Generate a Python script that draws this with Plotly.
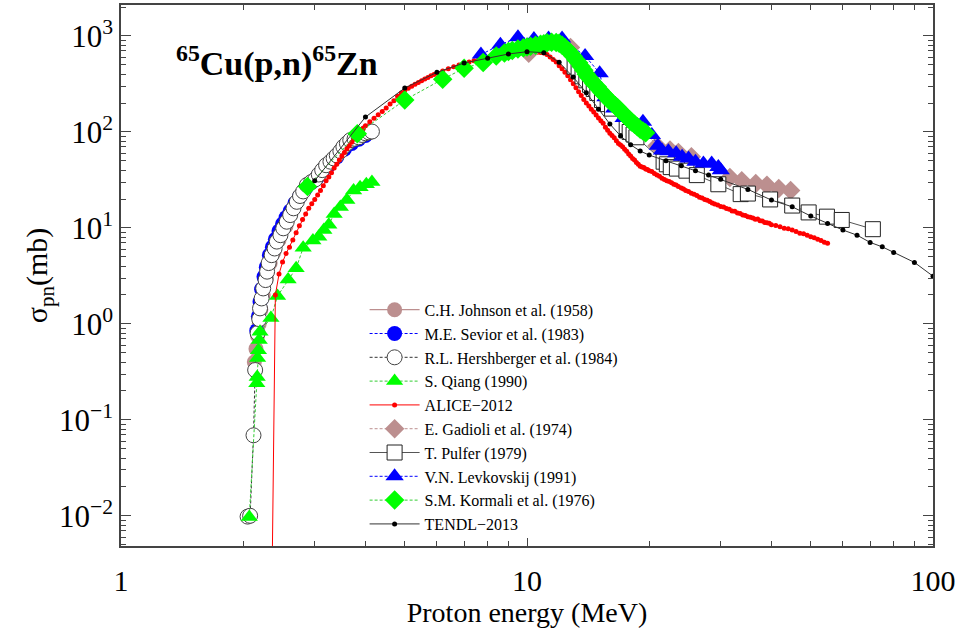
import plotly.graph_objects as go

# ---------------- data ----------------
johnson_e = [2.13, 2.15, 2.17, 2.19, 2.21, 2.24, 2.28, 2.33, 2.38, 2.45, 2.55]
johnson_s = [0.40, 0.55, 0.75, 1.0, 1.4, 2.0, 3.0, 4.3, 5.6, 7.5, 10.5]

sevior_e = [2.16, 2.18, 2.20, 2.22, 2.25, 2.28, 2.32, 2.36, 2.40, 2.45, 2.50, 2.55, 2.61,
            2.68, 2.75, 2.85, 2.95, 3.05, 3.15, 3.25, 3.40, 3.55, 3.70, 3.85, 4.00]
sevior_s = [0.85, 1.2, 1.7, 2.3, 3.1, 3.9, 5.2, 6.3, 7.6, 9.3, 11, 12.8, 15,
            18, 21, 26, 30, 34, 40, 45, 55, 66, 76, 84, 92]

hersh_e = [2.05, 2.08, 2.12, 2.14, 2.17, 2.19, 2.20, 2.22, 2.24, 2.27, 2.29, 2.31, 2.35,
           2.39, 2.42, 2.47, 2.51, 2.56, 2.61, 2.66, 2.71, 2.76, 2.81, 2.87, 2.94, 3.01,
           3.07, 3.13, 3.20, 3.28, 3.34, 3.40, 3.47, 3.53, 3.60, 3.67, 3.76, 3.85, 3.92,
           4.00, 4.08, 4.15]
hersh_s = [0.0098, 0.0100, 0.069, 0.33, 0.80, 1.12, 1.45, 1.84, 2.34, 2.86, 3.5, 4.3, 5.2,
           6.1, 7.2, 8.4, 9.9, 11.6, 13.6, 16.0, 18.7, 21.5, 24, 28, 30, 32,
           36, 40, 45, 49, 53, 57, 63, 70, 76, 82, 85, 88, 93,
           97, 99, 101]

qiang_e = [2.07, 2.16, 2.165, 2.17, 2.18, 2.19, 2.20, 2.34, 2.43, 2.58, 2.70, 2.81, 2.97,
           3.07, 3.16, 3.25, 3.35, 3.47, 3.60, 3.74, 3.88, 4.02, 4.15]
qiang_s = [0.0097, 0.24, 0.28, 0.44, 0.53, 0.68, 0.83, 1.15, 1.95, 2.9, 3.8, 6.2, 7.4,
           8.1, 9.5, 10.8, 14, 16.5, 19.5, 24.5, 26.5, 28.5, 30]

alice_e = [2.34, 2.40, 2.45, 2.50, 2.55, 2.60, 2.65, 2.70, 2.75, 2.80, 2.85, 2.90, 2.95,
           3.00, 3.05, 3.10, 3.15, 3.20, 3.25, 3.30, 3.35, 3.40, 3.45, 3.50, 3.55, 3.60,
           3.65, 3.70, 3.75, 3.80, 3.85, 3.90, 3.95, 4.00, 4.10, 4.20, 4.30, 4.40, 4.50,
           4.60, 4.70, 4.80, 4.90, 5.0, 5.1, 5.2, 5.3, 5.4, 5.5, 5.6, 5.7, 5.8, 5.9, 6.0,
           6.2, 6.4, 6.6, 6.8, 7.0, 7.2, 7.4, 7.6, 7.8, 8.0, 8.2, 8.4, 8.6, 8.8, 9.0, 9.2,
           9.4, 9.6, 9.8, 10.0, 10.2, 10.4, 10.6, 10.8, 11.0, 11.2, 11.4, 11.6, 11.8, 12.0,
           12.2, 12.4, 12.6, 12.8, 13.0, 13.2, 13.4, 13.6, 13.8, 14.0, 14.2, 14.4, 14.6,
           14.8, 15.0, 15.2, 15.4, 15.6, 15.8, 16.0, 16.2, 16.4, 16.6, 16.8, 17.0, 17.2,
           17.4, 17.6, 17.8, 18.0, 18.2, 18.4, 18.6, 18.8, 19.0, 19.2, 19.4, 19.6, 19.8,
           20.0, 20.3, 20.6, 20.9, 21.2, 21.5, 21.8, 22.1, 22.4, 22.7, 23.0, 23.3, 23.6,
           24.0, 24.3, 24.6, 25.0, 25.4, 25.8, 26.2, 26.6, 27.0, 27.4, 27.8, 28.2, 28.6,
           29.0, 29.5, 30.0, 30.5, 31.0, 31.5, 32.0, 32.5, 33.0, 33.5, 34.0, 34.5, 35.0,
           35.5, 36.0, 36.5, 37.0, 37.5, 38.0, 38.5, 39.0, 39.5, 40.0, 41.0, 42.0, 43.0,
           44.0, 45.0, 46.0, 47.0, 48.0, 49.0, 50.0, 51.0, 52.0, 53.0, 54.0, 55.0]
alice_s = [0.0002, 2.0, 3.3, 4.4, 5.4, 6.3, 7.5, 8.9, 10.5, 12.2, 14.0, 16.0, 17.9,
           19.8, 22.0, 24.5, 27.5, 31, 34, 37.6, 42, 46, 51, 56, 61, 67,
           72, 78, 84, 91, 97, 103, 109, 116, 128, 139, 151, 163, 178,
           195, 212, 235, 255, 272, 285, 300, 315, 328, 342, 356, 370, 385, 398, 410,
           432, 455, 478, 500, 520, 535, 552, 568, 583, 596, 608, 620, 632, 642, 650, 656,
           661, 666, 670, 673, 676, 678, 677, 674, 666, 640, 605, 570, 535, 490,
           455, 420, 385, 350, 318, 288, 262, 240, 218, 200, 186, 172, 161,
           150, 140, 131, 123, 112, 104, 97, 92, 87, 81, 76, 73, 70,
           66, 63, 59, 56, 53, 51, 48, 46, 44, 43, 42.5, 41, 40.5,
           39.5, 38.8, 37, 35.5, 34.5, 33, 32, 31, 30.5, 29.5, 28.5, 28, 27,
           26, 25.4, 24.5, 24, 23, 22.4, 21.8, 20.9, 20.5, 19.8, 19.4, 18.8, 18.2,
           17.8, 17.3, 16.7, 16.5, 15.9, 15.6, 15.0, 14.9, 14.3, 14.1, 13.6, 13.5, 13.1,
           12.9, 12.7, 12.3, 12.4, 11.9, 11.8, 11.4, 11.3, 11.2, 10.8, 10.6, 10.3, 9.9,
           9.8, 9.5, 9.2, 8.8, 8.7, 8.4, 8.1, 7.9, 7.6, 7.4, 7.1, 6.9]

gadioli_e = [10.1, 12.8, 20.9, 22.5, 23.6, 25.4, 31.6, 33.8, 36.6, 39.0, 41.7, 44.6]
gadioli_s = [660, 760, 72, 65, 61, 55, 33.5, 31, 29, 27.9, 25.8, 24.5]

pulfer_e = [13.1, 13.4, 13.7, 14.0, 14.3, 14.6, 14.9, 15.3, 15.8, 16.2, 17.6, 17.9, 18.3,
            18.6, 21.7, 22.1, 22.6, 23.4, 24.7, 26.2, 29.6, 33.6, 35.0, 39.7, 45.0, 49.4,
            54.8, 59.6, 71.1]
pulfer_s = [480, 430, 380, 345, 310, 280, 255, 215, 195, 175, 115, 100, 94,
            88, 49, 46, 43, 41.5, 39.5, 35.5, 28.5, 22.5, 22.8, 19.8, 17.1, 14.5,
            13.1, 12.1, 9.7]

levk_e = [7.7, 8.6, 9.5, 10.4, 11.3, 12.2, 13.9, 15.1, 15.6, 16.4, 17.3, 19.3, 20.3, 21.0,
          21.5, 22.3, 23.3, 24.1, 25.0, 26.0, 27.2, 28.5, 29.6, 30.0]
levk_s = [640, 810, 970, 930, 940, 940, 620, 410, 230, 176, 140, 128, 93, 72,
          64, 63, 60, 55, 53, 49, 47, 47, 43, 40]

korm_e = [2.88, 3.82, 5.0, 6.2, 7.0, 7.8, 8.4, 8.8, 9.0, 9.2, 9.5, 9.8, 10.0, 10.2, 10.5,
          10.8, 11.0, 11.2, 11.5, 11.8, 12.0, 12.2, 12.4, 12.6, 12.8, 13.0, 13.2, 13.4,
          13.6, 13.8, 14.0, 14.2, 14.4, 14.6, 14.9, 15.1, 15.3, 15.5, 15.8, 16.0, 16.2,
          16.5, 16.7, 16.9, 17.1, 17.4, 17.6, 17.9, 18.1, 18.4, 18.7, 19.0, 19.3, 19.6]
korm_s = [27, 96, 215, 355, 460, 530, 620, 665, 690, 705, 730, 755, 770, 780, 800,
          820, 830, 850, 860, 855, 840, 800, 760, 710, 660, 615, 565, 525,
          480, 440, 400, 370, 345, 320, 296, 275, 258, 243, 225, 210, 200,
          188, 180, 170, 160, 150, 143, 134, 127, 120, 113, 107, 102, 98]

tendl_e = [3.0, 4.0, 5.0, 6.0, 7.0, 8.0, 9.0, 10.0, 11.0, 12.0, 13.0, 14.0, 15.0, 16.0,
           17.0, 18.0, 19.0, 20.0, 22.0, 24.0, 26.0, 28.0, 30.0, 35.0, 40.0, 45.0, 50.0,
           55.0, 60.0, 65.0, 70.0, 75.0, 80.0, 90.0, 100.0]
tendl_s = [31, 143, 287, 418, 523, 585, 649, 686, 670, 532, 373, 256, 172, 121,
           91, 73.6, 63.2, 57.4, 50, 44.5, 39.4, 35.5, 32.1, 25.2, 19.5, 16.6, 13.3,
           11.1, 9.5, 8.4, 7.06, 6.35, 5.55, 4.37, 3.14]

ytick_vals = [0.01, 0.1, 1, 10, 100, 1000]
ytick_text = ["10<sup>−2</sup>", "10<sup>−1</sup>", "10<sup>0</sup>",
              "10<sup>1</sup>", "10<sup>2</sup>", "10<sup>3</sup>"]
xtick_vals = [1, 10, 100]
xtick_text = ["1", "10", "100"]

# ---------------- figure ----------------
SERIF = "Liberation Serif"
BROWN = "#bc8f8f"
GREEN = "#00ff00"
BLUE = "#0000ff"

fig = go.Figure()


def add(name, x, y, symbol, size, fill, edge, lcolor, dash, lw=1.0, mlw=1.0):
    fig.add_trace(go.Scatter(
        x=x, y=y, name=name, mode="lines+markers",
        line=dict(color=lcolor, width=lw, dash=dash),
        marker=dict(symbol=symbol, size=size, color=fill,
                    line=dict(color=edge, width=mlw)),
    ))


add("C.H. Johnson et al. (1958)", johnson_e, johnson_s, "circle", 15, BROWN, BROWN, BROWN, "solid", 1.2, 0)
add("M.E. Sevior et al. (1983)", sevior_e, sevior_s, "circle", 15, BLUE, BLUE, BLUE, "3px,2px", 1, 0)
add("R.L. Hershberger et al. (1984)", hersh_e, hersh_s, "circle", 15, "white", "#444444", "#333333", "3px,2px", 1, 1)
add("S. Qiang (1990)", qiang_e, qiang_s, "triangle-up", 15, GREEN, GREEN, "#33cc33", "3px,2px", 1, 0)
add("ALICE−2012", alice_e, alice_s, "circle", 5, "#ff0000", "#ff0000", "#ff0000", "solid", 1, 0)
add("E. Gadioli et al. (1974)", gadioli_e, gadioli_s, "diamond", 15, BROWN, BROWN, BROWN, "3px,2px", 1, 0)
add("T. Pulfer (1979)", pulfer_e, pulfer_s, "square", 15, "white", "#222222", "#555555", "solid", 1, 1)
add("V.N. Levkovskij (1991)", levk_e, levk_s, "triangle-up", 16, BLUE, BLUE, BLUE, "3px,2px", 1, 0)
add("S.M. Kormali et al. (1976)", korm_e, korm_s, "diamond", 15, GREEN, GREEN, "#33cc33", "3px,2px", 1, 0)
add("TENDL−2013", tendl_e, tendl_s, "circle", 5, "black", "black", "#333333", "solid", 1, 0)

AX = "#444444"
fig.update_xaxes(
    type="log", range=[0, 2.0], tickmode="array", tickvals=xtick_vals, ticktext=xtick_text,
    ticks="inside", ticklen=8, tickcolor=AX, showline=True, linecolor=AX, linewidth=1.5,
    mirror="ticks", showgrid=False, zeroline=False, ticklabelstandoff=7, automargin=False,
    tickfont=dict(family=SERIF, size=30, color="black"),
    minor=dict(ticks="inside", ticklen=5, tickcolor=AX, dtick="D1", showgrid=False),
    title=dict(text="Proton energy (MeV)", font=dict(family=SERIF, size=28, color="black"), standoff=4),
)
fig.update_yaxes(
    type="log", range=[-2.315, 3.323], tickmode="array", tickvals=ytick_vals, ticktext=ytick_text,
    ticks="inside", ticklen=10, tickcolor=AX, showline=True, linecolor=AX, linewidth=1.5,
    mirror="ticks", showgrid=False, zeroline=False, automargin=False,
    tickfont=dict(family=SERIF, size=31, color="black"),
    minor=dict(ticks="inside", ticklen=5, tickcolor=AX, dtick="D1", showgrid=False),
    title=dict(text="σ<sub>pn</sub>(mb)", font=dict(family=SERIF, size=30, color="black"), standoff=2),
)

fig.add_annotation(
    text="<b><sup>65</sup>Cu(p,n)<sup>65</sup>Zn</b>", xref="paper", yref="paper",
    x=0.192, y=0.895, xanchor="center", yanchor="middle", showarrow=False,
    font=dict(family=SERIF, size=34, color="black"),
)

fig.update_layout(
    width=959, height=630,
    margin=dict(l=121, r=26, t=5, b=84),
    paper_bgcolor="white", plot_bgcolor="white",
    showlegend=True,
    legend=dict(x=0.30, y=0.468, xanchor="left", yanchor="top", bgcolor="rgba(0,0,0,0)",
                font=dict(family=SERIF, size=16, color="black"), itemwidth=50,
                tracegroupgap=0),
)

fig.write_html("out.html")
